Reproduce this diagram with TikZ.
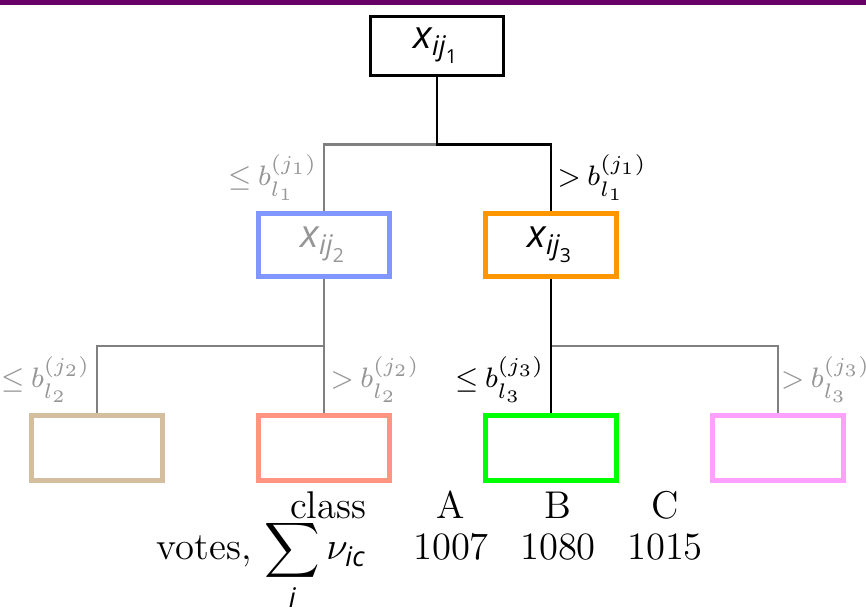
\documentclass[tikz,border=0pt]{standalone}
\usepackage{amsmath}
\usepackage{fontspec}
\usepackage{tikz}
\usetikzlibrary{positioning}
\newfontfamily\nodesans{Open Sans}
\definecolor{framepurple}{RGB}{102,0,102}
\definecolor{linkgray}{RGB}{128,128,128}
\definecolor{cutgray}{RGB}{150,150,150}
\definecolor{nodeblue}{RGB}{130,150,255}
\definecolor{nodeorange}{RGB}{255,150,0}
\definecolor{nodetan}{RGB}{212,190,160}
\definecolor{nodesalmon}{RGB}{255,148,128}
\definecolor{nodegreen}{RGB}{0,255,0}
\definecolor{nodepink}{RGB}{255,160,255}
\newcommand{\sfit}[1]{\text{\nodesans\itshape #1}}
\newcommand{\xvar}[1]{$\sfit{x}_{\sfit{ij}_{\text{\nodesans #1}}}$}
% split threshold, with a tighter relation space
\newcommand{\thr}[2]{$#1\mskip-1mu b^{(j_{#2})}_{l_{#2}}$}

\begin{document}
\begin{tikzpicture}[
      x=0.01cm, y=-0.01cm,
      font=\fontsize{11}{13}\selectfont,
      every node/.style={align=center},
      split/.style={draw, line width=1.5pt, minimum width=1.31cm,
                    minimum height=0.63cm, font=\fontsize{11}{13}\selectfont},
      leaf/.style={draw, line width=1.5pt, minimum width=1.31cm,
                   minimum height=0.65cm},
      onpath/.style={draw=black, line width=0.75pt},
      offpath/.style={draw=linkgray, line width=0.75pt},
      cut/.style={font=\fontsize{7.9}{10}\selectfont, inner sep=1.5pt},
    ]
    \useasboundingbox (0,0) rectangle (866,610);
    \fill[framepurple] (0,0) rectangle (866,5);

    % tree
    \node[split, draw=black, line width=1pt, minimum width=1.33cm,
          minimum height=0.57cm] (root) at (437,46) {\xvar{1}};
    \node[split, draw=nodeblue, text=cutgray] (left) at (324,245) {\xvar{2}};
    \node[split, draw=nodeorange] (right) at (551,245) {\xvar{3}};
    \node[leaf, draw=nodetan] (leafA) at (97,448) {};
    \node[leaf, draw=nodesalmon] (leafB) at (324,448) {};
    \node[leaf, draw=nodegreen] (leafC) at (551,448) {};
    \node[leaf, draw=nodepink] (leafD) at (778,448) {};

    \path (root.south) ++(0,67) coordinate (fork0);
    \path (left.south) ++(0,67) coordinate (forkL);
    \path (right.south) ++(0,67) coordinate (forkR);

    \draw[offpath] (fork0) -| node[cut, pos=.75, left, text=cutgray] (cutL) {\thr{\le}{1}} (left);
    \draw[onpath] (root) -- (fork0) -| node[cut, pos=.75, right] (cutR) {\thr{>}{1}} (right);

    \draw[offpath] (left) -- (forkL) -| node[cut, pos=.75, left, text=cutgray] (cutLL) {\thr{\le}{2}} (leafA);
    \draw[offpath] (forkL) -- node[cut, right, text=cutgray] (cutLR) {\thr{>}{2}} (leafB);
    \draw[offpath] (forkR) -| node[cut, pos=.75, right, text=cutgray, inner sep=0.5pt] (cutRR) {\thr{>}{3}} (leafD);
    \draw[onpath] (right) -- (forkR) -- node[cut, left] (cutRL) {\thr{\le}{3}} (leafC);

    % votes table
    \node[anchor=base east, inner sep=0] (classhead) at (367,519) {class};
    \node[anchor=base] (classA) at (451,519) {A};
    \node[anchor=base] (classB) at (558,519) {B};
    \node[anchor=base] (classC) at (665,519) {C};
    \node[anchor=base east, inner sep=0] (votehead) at (367,560)
      {votes, $\displaystyle\sum_{\sfit{i}} \nu_{\sfit{ic}}$};
    \node[anchor=base] (voteA) at (451,560) {1007};
    \node[anchor=base] (voteB) at (558,560) {1080};
    \node[anchor=base] (voteC) at (665,560) {1015};
  \end{tikzpicture}
\end{document}
